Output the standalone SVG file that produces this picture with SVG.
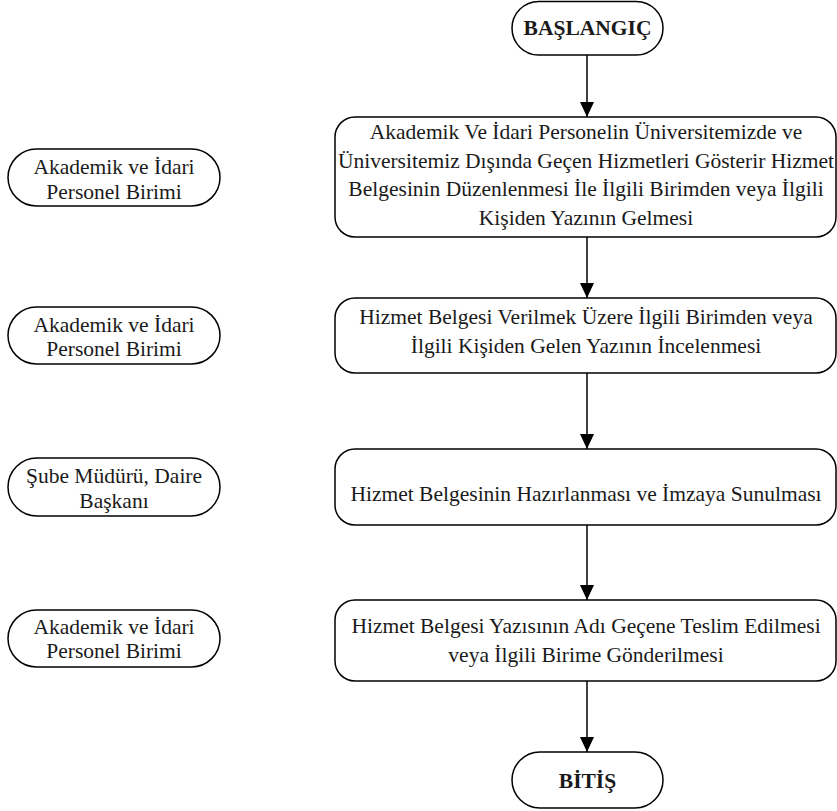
<svg xmlns="http://www.w3.org/2000/svg" width="837" height="811" viewBox="0 0 837 811">
<defs>
<style>
.shape{fill:#fff;stroke:#000;stroke-width:1.5}
.t{font-family:"Liberation Serif","Times New Roman",serif;font-size:21.5px;fill:#1a1a1a;text-anchor:middle}
.b{font-weight:bold}
.conn{stroke:#000;stroke-width:1.5;fill:none}
</style>
<marker id="arr" markerUnits="userSpaceOnUse" markerWidth="16" markerHeight="16" viewBox="0 0 16 16" refX="15" refY="8" orient="auto">
<path d="M0,1 L15,8 L0,15 Z" fill="#000"/>
</marker>
</defs>
<rect width="837" height="811" fill="#fff"/>
<g id="connectors">
<line class="conn" x1="587" y1="55" x2="587" y2="117" marker-end="url(#arr)"/>
<line class="conn" x1="587" y1="237" x2="587" y2="298" marker-end="url(#arr)"/>
<line class="conn" x1="587" y1="373" x2="587" y2="449" marker-end="url(#arr)"/>
<line class="conn" x1="587" y1="525" x2="587" y2="600" marker-end="url(#arr)"/>
<line class="conn" x1="587" y1="681" x2="587" y2="752" marker-end="url(#arr)"/>
</g>
<g id="start">
<rect class="shape" x="512" y="1.5" width="151" height="53.5" rx="26.75"/>
<text class="t b" x="587.5" y="35">BAŞLANGIÇ</text>
</g>
<g id="step1">
<rect class="shape" x="335" y="117" width="501" height="120" rx="20"/>
<text class="t" x="586" y="139">Akademik Ve İdari Personelin Üniversitemizde ve</text>
<text class="t" x="586" y="168">Üniversitemiz Dışında Geçen Hizmetleri Gösterir Hizmet</text>
<text class="t" x="586" y="196">Belgesinin Düzenlenmesi İle İlgili Birimden veya İlgili</text>
<text class="t" x="586" y="225">Kişiden Yazının Gelmesi</text>
</g>
<g id="step2">
<rect class="shape" x="335" y="298" width="501" height="75" rx="20"/>
<text class="t" x="586" y="324">Hizmet Belgesi Verilmek Üzere İlgili Birimden veya</text>
<text class="t" x="586" y="353">İlgili Kişiden Gelen Yazının İncelenmesi</text>
</g>
<g id="step3">
<rect class="shape" x="335" y="449" width="501" height="76" rx="20"/>
<text class="t" x="586" y="501">Hizmet Belgesinin Hazırlanması ve İmzaya Sunulması</text>
</g>
<g id="step4">
<rect class="shape" x="335" y="600" width="501" height="81" rx="20"/>
<text class="t" x="586" y="633">Hizmet Belgesi Yazısının Adı Geçene Teslim Edilmesi</text>
<text class="t" x="586" y="662">veya İlgili Birime Gönderilmesi</text>
</g>
<g id="end">
<rect class="shape" x="512" y="752" width="151" height="56" rx="28"/>
<text class="t b" x="587.5" y="788">BİTİŞ</text>
</g>
<g id="role1">
<rect class="shape" x="8" y="149" width="212" height="57" rx="28.5"/>
<text class="t" x="114" y="174">Akademik ve İdari</text>
<text class="t" x="114" y="199">Personel Birimi</text>
</g>
<g id="role2">
<rect class="shape" x="8" y="307" width="212" height="57" rx="28.5"/>
<text class="t" x="114" y="332">Akademik ve İdari</text>
<text class="t" x="114" y="356">Personel Birimi</text>
</g>
<g id="role3">
<rect class="shape" x="8" y="458" width="212" height="58" rx="29"/>
<text class="t" x="114" y="483">Şube Müdürü, Daire</text>
<text class="t" x="114" y="508">Başkanı</text>
</g>
<g id="role4">
<rect class="shape" x="8" y="610" width="212" height="57" rx="28.5"/>
<text class="t" x="114" y="634">Akademik ve İdari</text>
<text class="t" x="114" y="658">Personel Birimi</text>
</g>
</svg>
